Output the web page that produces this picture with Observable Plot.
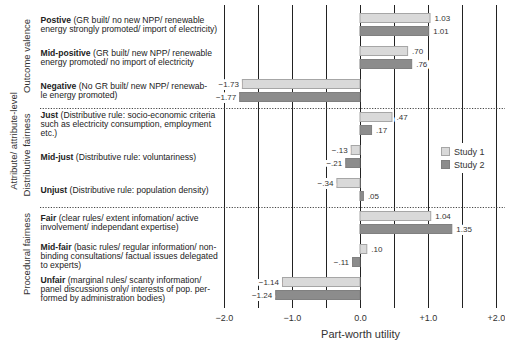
<!DOCTYPE html>
<html><head><meta charset="utf-8">
<script src="https://cdn.jsdelivr.net/npm/d3@7"></script>
<script src="https://cdn.jsdelivr.net/npm/@observablehq/plot@0.6"></script>
<style>
body{margin:0;background:#fff;font-family:"Liberation Sans",Arial,sans-serif;}
#wrap{position:relative;width:505px;height:345px;overflow:hidden;}
.legend{position:absolute;left:439px;top:143px;background:#fff;font-size:9px;color:#333;padding:2px 3px 2px 2px;}
.legend div{display:flex;align-items:center;height:13px;}
.sw{display:inline-block;width:9px;height:9px;margin-right:4px;box-sizing:border-box;}
.s1{background:#d9d9d9;border:1px solid #a6a6a6;}
.s2{background:#8c8c8c;border:1px solid #7f7f7f;}
</style></head>
<body><div id="wrap"></div>
<script>
const levels = ["Postive","Mid-positive","Negative","Just","Mid-just","Unjust","Fair","Mid-fair","Unfair"];
const descriptions = [
  "(GR built/ no new NPP/ renewable\nenergy strongly promoted/ import of electricity)",
  "(GR built/ new NPP/ renewable\nenergy promoted/ no import of electricity",
  "(No GR built/ new NPP/ renewab-\nle energy promoted)",
  "(Distributive rule: socio-economic criteria\nsuch as electricity consumption, employment\netc.)",
  "(Distributive rule: voluntariness)",
  "(Distributive rule: population density)",
  "(clear rules/ extent infomation/ active\ninvolvement/ independant expertise)",
  "(basic rules/ regular information/ non-\nbinding consultations/ factual issues delegated\nto experts)",
  "(marginal rules/ scanty information/\npanel discussions only/ interests of pop. per-\nformed by administration bodies)"
];
const study1 = [1.03, 0.70, -1.73, 0.47, -0.13, -0.34, 1.04, 0.10, -1.14];
const study2 = [1.01, 0.76, -1.77, 0.17, -0.21, 0.05, 1.35, -0.11, -1.24];
const groups = ["Outcome valence", "Distributive fairness", "Procedural fairness"];
const groupRows = ["Mid-positive", "Mid-just", "Mid-fair"];
const separatorsAfter = ["Negative", "Unjust"];
const gridValues = [-2, -1.5, -1, -0.5, 0, 0.5, 1, 1.5, 2];
const tickValues = [-2, -1, 0, 1, 2];
const axisTitle = "Part-worth utility";
const outerTitle = "Attribute/ attribute-level";
const seriesNames = ["Study 1", "Study 2"];

const rows = levels.map((l, i) => ({level: l, label: l + " " + descriptions[i], s1: study1[i], s2: study2[i]}));
const fmt = v => (v < 0 ? "\u2212" : "") + (Math.abs(v) >= 1 ? Math.abs(v).toFixed(2) : Math.abs(v).toFixed(2).slice(1));
const tickFmt = d => d === 0 ? "0.0" : (d > 0 ? "+" : "\u2212") + Math.abs(d).toFixed(1);

function valueLabels(key, dy) {
  const common = {x: key, y: "level", dy, text: d => fmt(d[key]), fontSize: 8, fill: "#333",
    stroke: "white", strokeWidth: 6, lineAnchor: "middle"};
  return [
    Plot.text(rows, {...common, filter: d => d[key] >= 0, textAnchor: "start", dx: 4}),
    Plot.text(rows, {...common, filter: d => d[key] < 0, textAnchor: "end", dx: -4})
  ];
}

const chart = Plot.plot({
  width: 505, height: 345,
  marginLeft: 40, marginRight: 0, marginTop: 5, marginBottom: 37,
  style: {fontFamily: "Liberation Sans, Arial, sans-serif", color: "#333", background: "white"},
  x: {domain: [-2, 2], range: [224, 496]},
  y: {domain: levels, type: "band", padding: 0, axis: null},
  marks: [
    Plot.gridX({ticks: gridValues, stroke: "#222", strokeOpacity: 1, strokeWidth: 1}),
    Plot.ruleX(gridValues, {x: d => d, stroke: "#222", strokeWidth: 1}),
    Plot.ruleY(separatorsAfter, {dy: 17.5, stroke: "#444", strokeDasharray: "1.2,1.5", strokeWidth: 1}),
    Plot.barX(rows, {x1: 0, x2: "s1", y: "level", insetTop: 5.5, insetBottom: 18.5, fill: "#d9d9d9", stroke: "#a6a6a6", strokeWidth: 1}),
    Plot.barX(rows, {x1: 0, x2: "s2", y: "level", insetTop: 18.5, insetBottom: 5.5, fill: "#8c8c8c", stroke: "#808080", strokeWidth: 1}),
    ...valueLabels("s1", -6.5),
    ...valueLabels("s2", 6.5),
    Plot.axisX({ticks: tickValues, tickFormat: tickFmt, tickSize: 0, tickPadding: 6, fontSize: 9, label: null, fill: "#333"}),
    Plot.text([axisTitle], {x: 0, frameAnchor: "bottom", dy: 26, text: d => d, fontSize: 11, fill: "#333", lineAnchor: "middle"}),
    Plot.text(rows, {y: "level", frameAnchor: "left", text: "label", textAnchor: "start", lineAnchor: "middle",
      fontSize: 8.6, lineHeight: 1.03, fill: "#222"}),
    Plot.text(groups.map((g, i) => ({g, row: groupRows[i]})), {y: "row", frameAnchor: "left", dx: -14, dy: -2, text: "g",
      rotate: -90, textAnchor: "middle", lineAnchor: "middle", fontSize: 9.5, fill: "#333"}),
    Plot.text([outerTitle], {y: () => "Just", frameAnchor: "left", dx: -27, dy: 17, text: d => d,
      rotate: -90, textAnchor: "middle", lineAnchor: "middle", fontSize: 9.5, fill: "#333"})
  ]
});

// bold level names at the start of each category label
chart.querySelectorAll("text").forEach(t => {
  const first = t.querySelector("tspan") || t;
  const s = first.textContent;
  const name = levels.find(n => s.startsWith(n + " ("));
  if (!name) return;
  const rest = s.slice(name.length);
  first.textContent = "";
  const b = document.createElementNS("http://www.w3.org/2000/svg", "tspan");
  b.setAttribute("font-weight", "bold");
  b.textContent = name;
  first.appendChild(b);
  first.appendChild(document.createTextNode(rest));
});

const wrap = document.getElementById("wrap");
wrap.appendChild(chart);
const legend = document.createElement("div");
legend.className = "legend";
legend.innerHTML = seriesNames.map((n, i) => `<div><span class="sw s${i + 1}"></span>${n}</div>`).join("");
wrap.appendChild(legend);
</script>
</body></html>
